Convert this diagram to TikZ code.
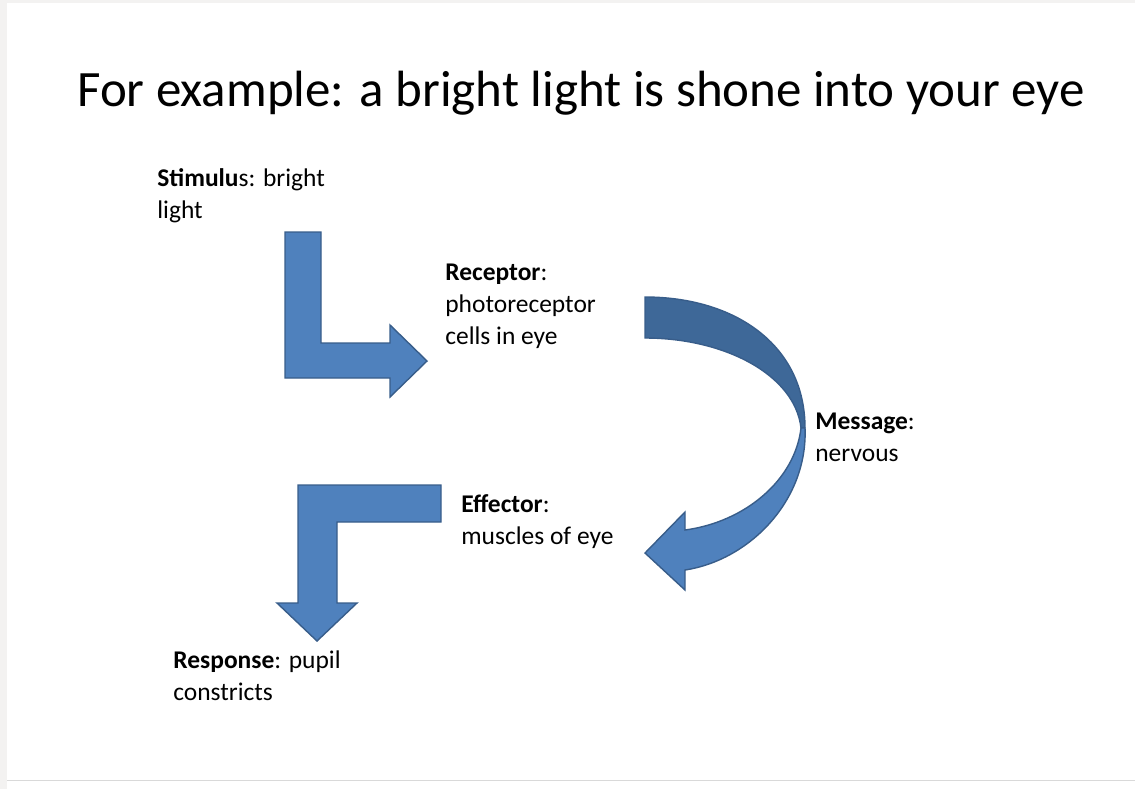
\documentclass[tikz,border=0pt]{standalone}
\usepackage{fontspec}
\setmainfont{Carlito}
\usetikzlibrary{positioning}
\definecolor{arrowblue}{HTML}{4F81BD}
\definecolor{arrowdark}{HTML}{3E6898}
\definecolor{arrowline}{HTML}{385D8A}
\definecolor{framegray}{HTML}{F3F2F1}
\begin{document}
\begin{tikzpicture}[x=0.02cm, y=-0.02cm]

    % Styles
    \tikzset{
        bigarrow/.style={fill=arrowblue, draw=arrowline, line width=0.8pt, line join=miter},
        darkarrow/.style={fill=arrowdark, draw=arrowline, line width=0.8pt},
        steplabel/.style={anchor=north west, inner sep=0pt, align=left,
            font=\fontsize{14.5}{18.2}\selectfont},
        titletext/.style={anchor=base, inner sep=0pt, font=\fontsize{29}{34}\selectfont}
    }

    % Page and frame
    \useasboundingbox (0,0) rectangle (1135,789);
    \fill[framegray] (0,0) rectangle (7,789);
    \fill[framegray] (0,0) rectangle (1135,3);
    \draw[gray!30] (7,780) -- (1135,780);

    % Title
    \node (title) [titletext] at (581,106) {For example: a bright light is shone into your eye};

    % Labels
    \node (stimulus) [steplabel] at (157,168) {\textbf{Stimulu}s: bright\\light};
    \node (receptor) [steplabel] at (445,264) {\textbf{Receptor}:\\photoreceptor\\cells in eye};
    \node (message) [steplabel] at (815,413) {\textbf{Message}:\\nervous};
    \node (effector) [steplabel] at (461,494) {\textbf{Effector}:\\muscles of eye};
    \node (response) [steplabel] at (173,650) {\textbf{Response}: pupil\\constricts};

    % Bent arrow: stimulus to receptor
    \draw[bigarrow] (285,232) -- (321,232) -- (321,343) -- (390,343) -- (390,325)
        -- (427,361) -- (390,397) -- (390,378) -- (285,378) -- cycle;

    % Curved arrow: receptor to effector
    \draw[darkarrow] (645,297) .. controls (735,297) and (805,345) .. (805,428)
        -- (801,428) .. controls (795,375) and (725,338) .. (645,338) -- cycle;
    \draw[bigarrow] (805,428) .. controls (808,500) and (750,560) .. (685,570)
        -- (685,590) -- (645,553) -- (685,512) -- (685,530)
        .. controls (745,522) and (795,480) .. (801,428) -- cycle;

    % Bent arrow: effector to response
    \draw[bigarrow] (441,485) -- (441,522) -- (337,522) -- (337,603) -- (357,603)
        -- (317,641) -- (277,603) -- (298,603) -- (298,485) -- cycle;

\end{tikzpicture}
\end{document}
